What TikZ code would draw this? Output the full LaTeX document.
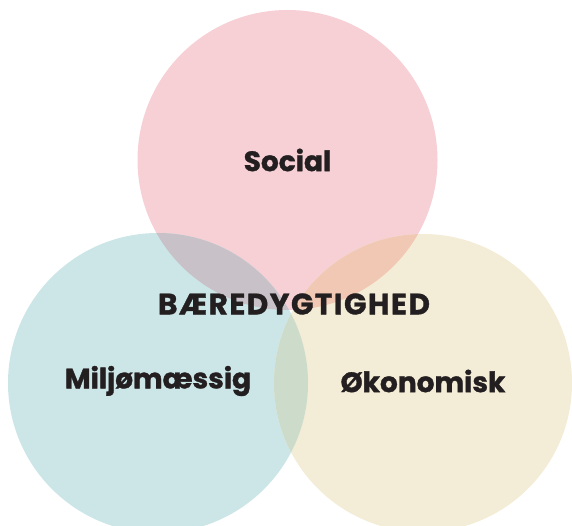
\documentclass[tikz,border=0pt]{standalone}
\usepackage{fontspec}
\setmainfont{Poppins}
\definecolor{pinkc}{HTML}{F7D0D5}
\definecolor{tealc}{HTML}{CCE6E8}
\definecolor{beigec}{HTML}{F3ECD6}
\definecolor{ptc}{HTML}{C9C1C8}
\definecolor{pbc}{HTML}{F0C8B4}
\definecolor{tbc}{HTML}{CDDCCA}
\definecolor{inkc}{HTML}{231F20}
\tikzset{
  venn/.style={circle, minimum size=300pt, inner sep=0pt},
  lbl/.style={text=inkc, font=\bfseries\fontsize{28}{32}\selectfont\addfontfeature{FakeBold=1.2}, inner sep=0pt},
}
\begin{document}
\begin{tikzpicture}[x=1pt,y=-1pt]
\useasboundingbox (0,0) rectangle (572,526);
\fill[pinkc] (287.5,160) circle (150);
\fill[tealc] (158,383) circle (150);
\fill[beigec] (423,383) circle (149);
\begin{scope}
\clip (287.5,160) circle (150);
\fill[ptc] (158,383) circle (150);
\fill[pbc] (423,383) circle (149);
\end{scope}
\begin{scope}
\clip (158,383) circle (150);
\fill[tbc] (423,383) circle (149);
\end{scope}
\node[venn] (soc) at (287.5,160) {};
\node[venn] (mil) at (158,383) {};
\node[venn] (oko) at (423,383) {};
\node[lbl] (tsoc) at (soc.center) {Social};
\node[lbl, font=\bfseries\fontsize{29.5}{32}\selectfont\addfontfeature{FakeBold=1.2,LetterSpace=5}] (tbae) at (294,304) {BÆREDYGTIGHED};
\node[lbl] (tmil) at (158,381) {Miljømæssig};
\node[lbl] (toko) at (423,381) {Økonomisk};
\end{tikzpicture}
\end{document}
